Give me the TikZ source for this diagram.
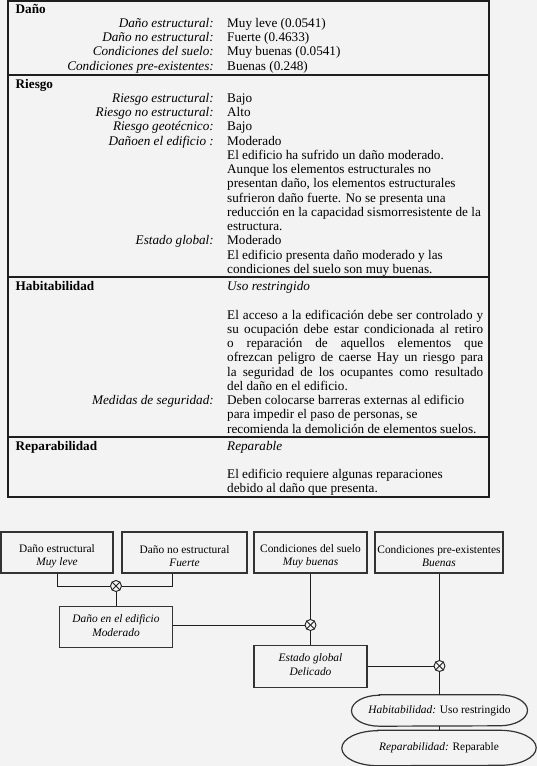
\documentclass[tikz,border=0pt]{standalone}
\usepackage{fontspec}
\setmainfont{Liberation Serif}
\usetikzlibrary{calc}
\definecolor{bg}{HTML}{F3F3F3}
\definecolor{ink}{HTML}{1E1E1E}
\definecolor{boxink}{HTML}{333333}
\begin{document}
\begin{tikzpicture}[x=1pt,y=-1pt,
  lab/.style={anchor=base east, inner sep=0pt, font=\fontsize{13.2}{14.25}\selectfont\itshape},
  val/.style={anchor=base west, inner sep=0pt, font=\fontsize{13.2}{14.25}\selectfont},
  ival/.style={val, font=\fontsize{13.2}{14.25}\selectfont\itshape},
  sec/.style={anchor=base west, inner sep=0pt, font=\fontsize{13.2}{14.25}\selectfont\bfseries},
  frameline/.style={line width=2pt, draw=ink},
  dbox/.style={draw=boxink, line width=1.2pt, inner sep=0pt},
  dtext/.style={align=center, inner sep=0pt, font=\fontsize{11.4}{13.3}\selectfont},
  oval/.style={inner sep=0pt, font=\fontsize{11.4}{13.3}\selectfont},
  ovalline/.style={draw=boxink, line width=1.2pt},
  conn/.style={draw=ink, line width=0.9pt},
  omark/.style={circle, draw=ink, line width=0.9pt, minimum size=11pt, inner sep=0pt, fill=bg}
]
\fill[bg] (0,0) rectangle (537,766);
\useasboundingbox (0,0) rectangle (537,766);

% ---------- table ----------
\draw[frameline] (8,1) rectangle (489,496.5);
\draw[frameline] (8,74.5) -- (489,74.5);
\draw[frameline] (8,277) -- (489,277);
\draw[frameline] (8,436.5) -- (489,436.5);

\def\LX{214}
\def\VX{227}

\node[sec] (sDano) at (15.5,13.5) {Daño};
\node[lab] (l1) at (\LX,27.25) {Daño estructural:};
\node[val] (v1) at (\VX,27.25) {Muy leve (0.0541)};
\node[lab] (l2) at (\LX,41.5) {Daño no estructural:};
\node[val] (v2) at (\VX,41.5) {Fuerte (0.4633)};
\node[lab] (l3) at (\LX,55.75) {Condiciones del suelo:};
\node[val] (v3) at (\VX,55.75) {Muy buenas (0.0541)};
\node[lab] (l4) at (\LX,70) {Condiciones pre-existentes:};
\node[val] (v4) at (\VX,70) {Buenas (0.248)};

\node[sec] (sRiesgo) at (15.5,88) {Riesgo};
\node[lab] (l5) at (\LX,102.25) {Riesgo estructural:};
\node[val] (v5) at (\VX,102.25) {Bajo};
\node[lab] (l6) at (\LX,116.5) {Riesgo no estructural:};
\node[val] (v6) at (\VX,116.5) {Alto};
\node[lab] (l7) at (\LX,130.75) {Riesgo geotécnico:};
\node[val] (v7) at (\VX,130.75) {Bajo};
\node[lab] (l8) at (\LX,145) {Dañoen el edificio :};
\node[val] (v8) at (\VX,145) {Moderado};
\node[val] (v8a) at (\VX,159.25) {El edificio ha sufrido un daño moderado.};
\node[val] (v8b) at (\VX,173.5) {Aunque los elementos estructurales no};
\node[val] (v8c) at (\VX,187.75) {presentan daño, los elementos estructurales};
\node[val] (v8d) at (\VX,202) {sufrieron daño fuerte. No se presenta una};
\node[val] (v8e) at (\VX,216.25) {reducción en la capacidad sismorresistente de la};
\node[val] (v8f) at (\VX,230.5) {estructura.};
\node[lab] (l9) at (\LX,244.75) {Estado global:};
\node[val] (v9) at (\VX,244.75) {Moderado};
\node[val] (v9a) at (\VX,259) {El edificio presenta daño moderado y las};
\node[val] (v9b) at (\VX,273.25) {condiciones del suelo son muy buenas.};

\node[sec] (sHab) at (15.5,290.5) {Habitabilidad};
\node[ival] (vh) at (\VX,290.5) {Uso restringido};
\node[val] (vh1) at (\VX,319) {\makebox[256pt][s]{El acceso a la edificación debe ser controlado y}};
\node[val] (vh2) at (\VX,333.25) {\makebox[256pt][s]{su ocupación debe estar condicionada al retiro}};
\node[val] (vh3) at (\VX,347.5) {\makebox[256pt][s]{o reparación de aquellos elementos que}};
\node[val] (vh4) at (\VX,361.75) {\makebox[256pt][s]{ofrezcan peligro de caerse Hay un riesgo para}};
\node[val] (vh5) at (\VX,376) {\makebox[256pt][s]{la seguridad de los ocupantes como resultado}};
\node[val] (vh6) at (\VX,390.25) {del daño en el edificio.};
\node[lab] (l10) at (\LX,404.5) {Medidas de seguridad:};
\node[val] (vm1) at (\VX,404.5) {Deben colocarse barreras externas al edificio};
\node[val] (vm2) at (\VX,418.75) {para impedir el paso de personas, se};
\node[val] (vm3) at (\VX,433) {recomienda la demolición de elementos suelos.};

\node[sec] (sRep) at (15.5,450) {Reparabilidad};
\node[ival] (vr) at (\VX,450) {Reparable};
\node[val] (vr1) at (\VX,478.5) {El edificio requiere algunas reparaciones};
\node[val] (vr2) at (\VX,492.75) {debido al daño que presenta.};

% ---------- diagram ----------
\node[dbox, minimum width=112pt, minimum height=41pt] (b1) at (57,552.5) {};
\node[dbox, minimum width=125pt, minimum height=41pt] (b2) at (184.5,552.5) {};
\node[dbox, minimum width=113pt, minimum height=41pt] (b3) at (310.5,552.5) {};
\node[dbox, minimum width=128pt, minimum height=41pt] (b4) at (439,552.5) {};
\node[dbox, minimum width=113pt, minimum height=41.5pt] (b5) at (116,627) {};
\node[dbox, minimum width=113pt, minimum height=42pt] (b6) at (310.5,666.7) {};

\node[dtext] (t1) at ([yshift=-3.5pt]b1.center) {Daño estructural\\\textit{Muy leve}};
\node[dtext] (t2) at ([yshift=-3.5pt]b2.center) {Daño no estructural\\\textit{Fuerte}};
\node[dtext] (t3) at ([yshift=-3.5pt]b3.center) {Condiciones del suelo\\\textit{Muy buenas}};
\node[dtext] (t4) at ([yshift=-3.5pt]b4.center) {Condiciones pre-existentes\\\textit{Buenas}};
\node[dtext] (t5) at ([yshift=1.5pt]b5.center) {\textit{Daño en el edificio}\\\textit{Moderado}};
\node[dtext] (t6) at ([yshift=2pt]b6.center) {\textit{Estado global}\\\textit{Delicado}};

\node[oval, minimum width=175.6pt, minimum height=31pt] (e1) at (439.5,710.5) {\textit{Habitabilidad:} Uso restringido};
\node[oval, minimum width=194pt, minimum height=35pt] (e2) at (439,748) {\textit{Reparabilidad:} Reparable};
\draw[ovalline] ([xshift=28pt]e1.north west) -- ([xshift=-28pt]e1.north east)
    arc[start angle=90, end angle=-90, x radius=28pt, y radius=15.5pt]
    -- ([xshift=28pt]e1.south west)
    arc[start angle=270, end angle=90, x radius=28pt, y radius=15.5pt] -- cycle;
\draw[ovalline] ([xshift=36pt]e2.north west) -- ([xshift=-36pt]e2.north east)
    arc[start angle=90, end angle=-90, x radius=36pt, y radius=17.5pt]
    -- ([xshift=36pt]e2.south west)
    arc[start angle=270, end angle=90, x radius=36pt, y radius=17.5pt] -- cycle;

\coordinate (b2c) at ($(b2.south west)!0.405!(b2.south east)$);
\node[omark] (o1) at (116,586) {};
\node[omark] (o2) at (310.5,625) {};
\node[omark] (o3) at (439.5,666) {};

\draw[conn] (b1.south) |- (o1.west);
\draw[conn] (b2c) |- (o1.east);
\draw[conn] (o1.south) -- (b5.north);
\draw[conn] (o2.west) -- (o2 -| b5.east);
\draw[conn] (b3.south) -- (o2.north);
\draw[conn] (o2.south) -- (b6.north);
\draw[conn] (o3.west) -- (o3 -| b6.east);
\draw[conn] (b4.south -| o3) -- (o3.north);
\draw[conn] (o3.south) -- (o3.south |- e1.north);
\draw[conn] (e1.south -| o3) -- (e2.north -| o3);

\foreach \o in {o1,o2,o3}{
  \draw[conn] (\o.north east) -- (\o.south west);
  \draw[conn] (\o.north west) -- (\o.south east);
}
\end{tikzpicture}
\end{document}
